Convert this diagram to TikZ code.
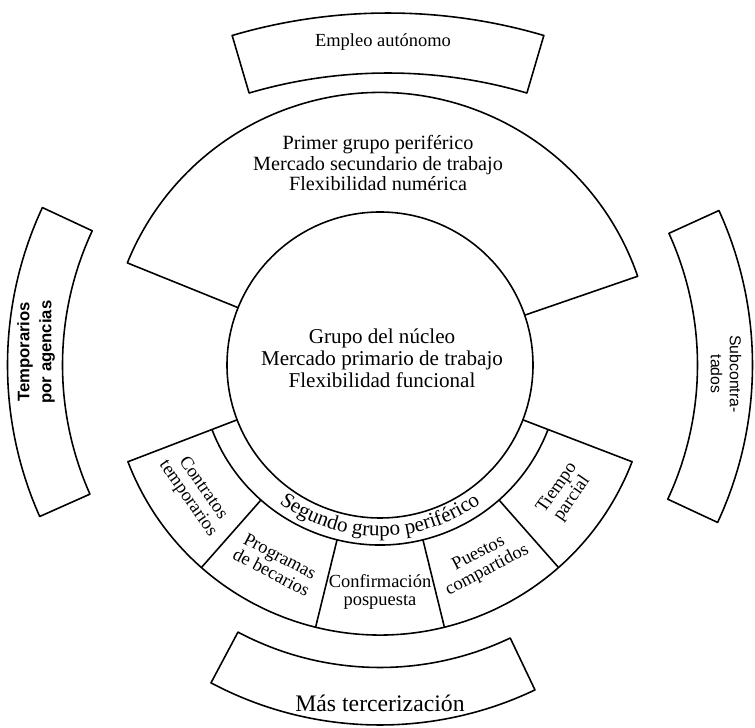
\documentclass[tikz,border=0pt]{standalone}
\usepackage{fontspec}
\setmainfont{Liberation Serif}
\newfontfamily\sansfam{Liberation Sans}
\usetikzlibrary{decorations.text}

\begin{document}
\begin{tikzpicture}[line width=0.9pt, line join=round,
		lbl/.style={align=center, inner sep=0pt},
		seglbl/.style={lbl, font=\fontsize{10.5}{10.5}\selectfont}]
		\useasboundingbox (-7.6,-7.26) rectangle (7.5,7.3);
		\draw (0,0) coordinate(center) circle(3.06);
		\draw (19:3.06) -- (19:5.45) arc(19:158:5.45) -- (158:3.06);
		\draw (201:3.06) -- (201:5.4) arc(201:339:5.4) -- (339:3.06);
		\draw (201:3.6) arc(201:339:3.6);
		\foreach \a in {228.6,256.2,283.8,311.4}
			\draw (\a:3.6) -- (\a:5.4);
		
		\draw[shift={(0.16,-4)}] (73.6:9.84) -- (73.6:11.04) arc(73.6:106.4:11.04) -- (106.4:9.84) arc(106.4:73.6:9.84) -- cycle;
		\draw (-118:6.05) -- (-118:7.2) arc(-118:-64.5:7.2) -- (-64.5:6.05) arc(-64.5:-118:6.05) -- cycle;
		\draw (155:6.35) -- (155:7.45) arc(155:204:7.45) -- (204:6.35) arc(204:155:6.35) -- cycle;
		\draw (-25:6.35) -- (-25:7.45) arc(-25:24.5:7.45) -- (24.5:6.35) arc(24.5:-25:6.35) -- cycle;
		
		\node[lbl, font=\fontsize{12}{12.5}\selectfont] (core) at (0.04,0.14) {Grupo del núcleo\\Mercado primario de trabajo\\Flexibilidad funcional};
		\node[lbl, font=\fontsize{11.5}{11.7}\selectfont] (primer) at (-0.04,4.04) {Primer grupo periférico\\Mercado secundario de trabajo\\Flexibilidad numérica};
		\path[decorate, decoration={text along path, text align=center,
			text={|\fontsize{12}{12}\selectfont|Segundo grupo periférico}}] (200:3.42) arc(200:340:3.42);
		
		\node[seglbl, rotate=-55.2] (contratos) at (214.8:4.5) {Contratos\\temporarios};
		\node[seglbl, rotate=-27.6] (programas) at (242.4:4.5) {Programas\\de becarios};
		\node[seglbl] (confirmacion) at (270:4.54) {Confirmación\\pospuesta};
		\node[seglbl, rotate=27.6] (puestos) at (297.6:4.45) {Puestos\\compartidos};
		\node[seglbl, rotate=55.2] (tiempo) at (325.2:4.5) {Tiempo\\parcial};
		
		\node[lbl, font=\fontsize{10.5}{10.5}\selectfont] (empleo) at (0.06,6.46) {Empleo autónomo};
		\node[lbl, font=\fontsize{13.5}{13.5}\selectfont] (mas) at (0,-6.76) {Más tercerización};
		\node[lbl, rotate=90, font=\sansfam\bfseries\fontsize{9.5}{12.5}\selectfont] (temporarios) at (-6.88,0.26) {Temporarios\\por agencias};
		\node[lbl, rotate=-90, font=\sansfam\fontsize{9}{10.8}\selectfont] (subcontratados) at (6.92,-0.18) {Subcontra-\\tados};
	\end{tikzpicture}
\end{document}
